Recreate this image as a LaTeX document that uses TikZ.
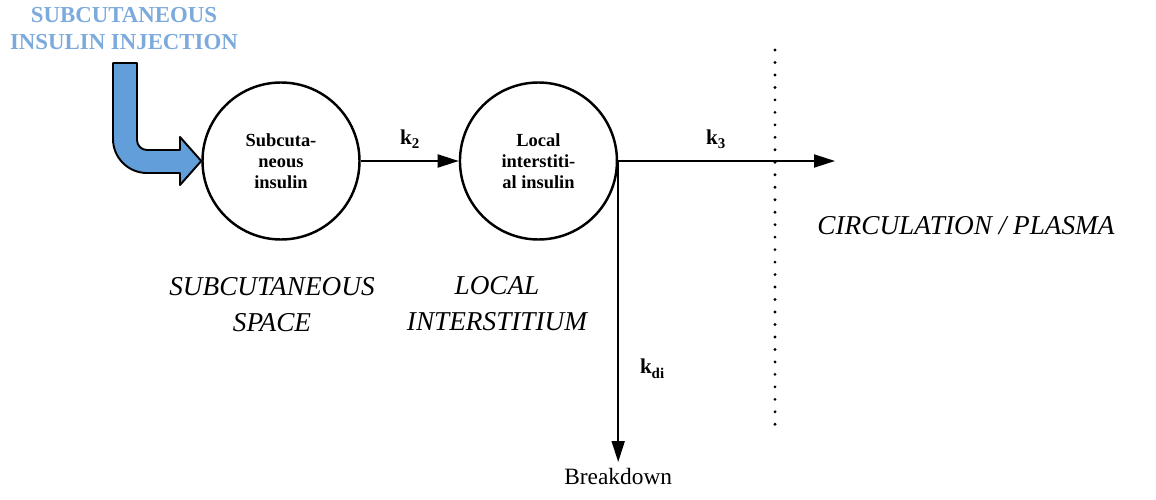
\documentclass[tikz,border=0pt]{standalone}
\usepackage{fontspec}
\setmainfont{Liberation Serif}
\usepackage{xcolor}
\usepackage{tikz}
\usetikzlibrary{positioning, arrows.meta, calc}
\definecolor{injtext}{RGB}{125,170,220}
\definecolor{injfill}{RGB}{98,158,218}
\newcommand{\labfont}{\fontsize{15.5}{20.5}\selectfont\itshape}
\newcommand{\ksub}[1]{k\raisebox{-0.45ex}{\fontsize{8.5}{9}\selectfont #1}}

\begin{document}
\begin{tikzpicture}[
  compartment/.style={draw,circle,line width=1.4pt,minimum size=3.14cm,inner sep=0pt,align=center,
    font=\fontsize{10.5}{12}\selectfont\bfseries},
  flow/.style={-{Triangle[length=0.42cm,width=0.26cm]},line width=1.1pt},
  rate/.style={font=\fontsize{12}{13}\selectfont\bfseries},
  region/.style={font=\labfont,align=center},
]
\useasboundingbox (0,0) rectangle (23.12,9.98);

\node[compartment] (sub) at (5.62,6.76) {Subcuta-\\neous\\insulin};
\node[compartment,right=1.96cm of sub] (loc) {Local\\interstiti-\\al insulin};

\coordinate (plasma) at (16.7,6.76);
\coordinate (sink) at ($(loc.east)+(0,-6.02)$);
\node[below=0pt of sink,font=\fontsize{13.3}{15}\selectfont] (brk) {Breakdown};

\draw[flow] (sub.east) -- node[rate,above=3pt] {\ksub{2}} (loc.west);
\draw[flow] (loc.east) -- node[rate,above=3pt,pos=0.45] {\ksub{3}} (plasma);
\draw[flow] (loc.east) -- node[rate,right=0.3cm,pos=0.69] {\ksub{di}} (sink);

% boundary to the plasma
\coordinate (bnd top) at (15.5,8.98);
\coordinate (bnd bot) at (15.5,1.48);
\draw[line width=1.8pt,line cap=round,dash pattern=on 0pt off 7.1pt] (bnd top) -- (bnd bot);

% injection arrow
\node[font=\fontsize{13}{15.3}\selectfont\bfseries,text=injtext,align=center] (inj) at (2.48,9.41)
  {SUBCUTANEOUS\\INSULIN INJECTION};
\draw[line width=1.1pt,fill=injfill,line join=round]
  (2.26,8.72) -- (2.74,8.72) -- (2.74,7.18) arc[start angle=180,end angle=270,radius=0.2]
  -- (3.6,6.98) -- (3.6,7.24) -- (sub.west) -- (3.6,6.28) -- (3.6,6.52) -- (2.94,6.52)
  arc[start angle=270,end angle=180,radius=0.68] -- cycle;

\node[region] (subspace) at (5.44,3.88) {SUBCUTANEOUS\\SPACE};
\node[region] (locspace) at (9.94,3.9) {LOCAL\\INTERSTITIUM};
\node[region] (circ) at (19.32,5.46) {CIRCULATION / PLASMA};

\end{tikzpicture}
\end{document}
